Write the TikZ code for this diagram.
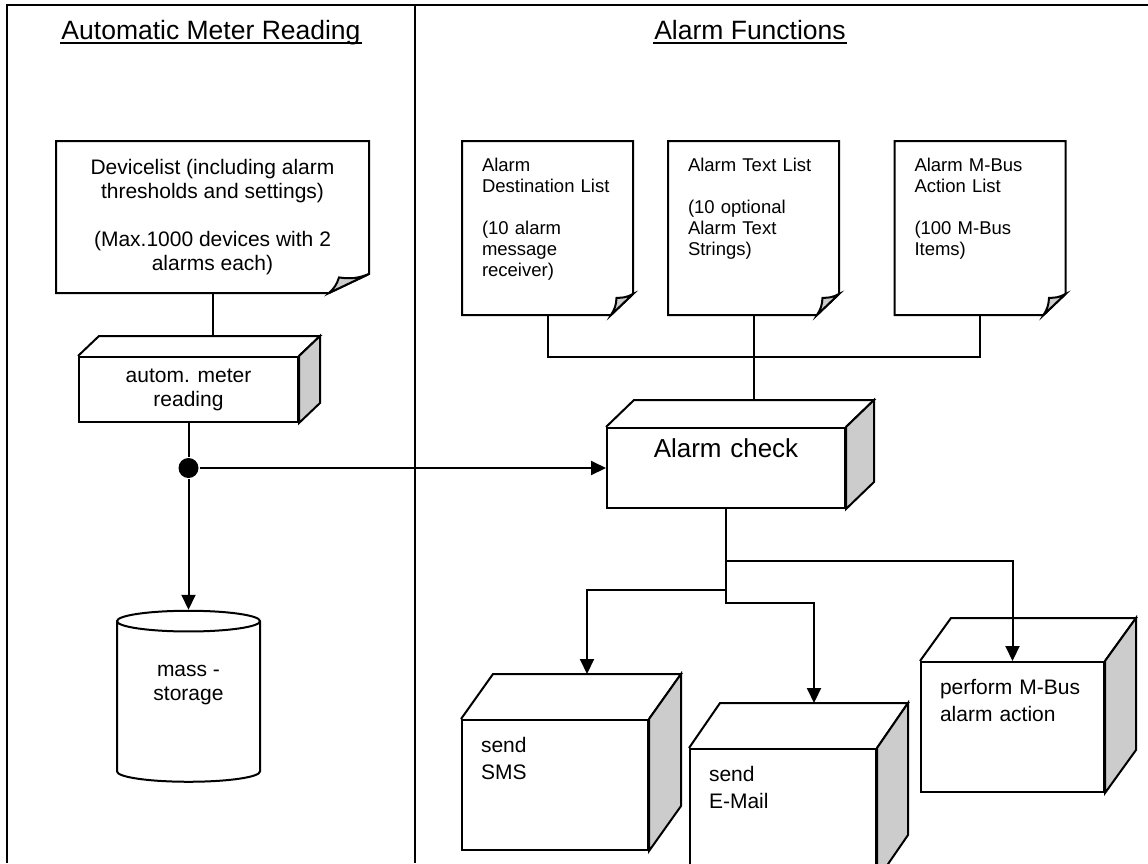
\documentclass[tikz,border=0pt]{standalone}
\usepackage{fontspec}
\setmainfont{Liberation Sans}
\usetikzlibrary{positioning,shapes.geometric,arrows.meta,calc}
\definecolor{ShadeGray}{RGB}{204,204,204}
\tikzset{>={Triangle[length=15pt,width=14pt]}}

% faces of a 3d box: node, dx, dy
\newcommand{\boxfaces}[3]{%
  \draw (#1.north west) -- ++(#2,-#3) -- ($(#1.north east)+(#2,-#3)$) -- (#1.north east);
  \draw[fill=ShadeGray] (#1.north east) -- ++(#2,-#3) -- ($(#1.south east)+(#2,-#3)$) -- (#1.south east) -- cycle;}
% sheet with folded corner: node, fold width, fold height
\newcommand{\sheetframe}[3]{%
  \draw (#1.north west) -- (#1.north east) -- ($(#1.south east)+(0,-#3)$) -- ($(#1.south east)+(-#2,0)$) -- (#1.south west) -- cycle;
  \draw[fill=ShadeGray] ($(#1.south east)+(-#2,0)$) to[bend right=15] ($(#1.south east)+(-0.75*#2,-0.82*#3)$) to[bend right=15] ($(#1.south east)+(0,-#3)$) -- cycle;}

\begin{document}
\begin{tikzpicture}[x=1pt,y=-1pt,line width=2pt,
    panelhead/.style={font=\fontsize{26.5}{30}\selectfont, anchor=base, inner sep=0pt},
    devsheet/.style={minimum width=311pt, minimum height=150pt, align=center, font=\fontsize{21}{24}\selectfont},
    listsheet/.style={text width=131pt, inner xsep=19pt, inner ysep=15pt, align=left,
        text height=14pt, text depth=128pt, font=\fontsize{18.5}{21}\selectfont},
    task/.style={draw, inner xsep=19pt, inner ysep=16pt, align=left,
        text height=16pt, text depth=82pt, font=\fontsize{21}{27}\selectfont},
    dot/.style={circle, fill=black, inner sep=0pt, minimum size=20pt}]
        \useasboundingbox (0,0) rectangle (1148,863);
        \fill[white] (0,0) rectangle (1148,863);
        % panels
        \draw[line width=2.5pt] (7,863) -- (7,5) -- (1148,5);
        \draw[line width=2.5pt] (415,5) -- (415,863);
        \node[panelhead] (amrhead) at (211,39) {Automatic Meter Reading};
        \node[panelhead] (alfhead) at (750,39) {Alarm Functions};
        \draw ($(amrhead.base west)+(0,4)$) -- ($(amrhead.base east)+(0,4)$);
        \draw ($(alfhead.base west)+(0,4)$) -- ($(alfhead.base east)+(0,4)$);

        % meter reading side
        \node[devsheet] (devl) at (212.5,217) {Devicelist (including alarm\\thresholds and settings)\\[24pt](Max.1000 devices with 2\\alarms each)};
        \sheetframe{devl}{40}{19}
        \node[draw, minimum width=219pt, minimum height=65pt, align=center, font=\fontsize{21}{24}\selectfont] (meter) at (188.5,389.5) {autom. meter\\reading};
        \boxfaces{meter}{21}{20}
        \coordinate (mtop) at ($(meter.north)+(21,-20)$);
        \node[dot] (jn) at (188.5,468) {};
        \node[draw, cylinder, shape border rotate=90, shape aspect=0.27, minimum width=143pt, minimum height=171pt,
              align=center, text depth=42pt, font=\fontsize{21}{24}\selectfont] (store) at (188.5,703.5) {mass -\\storage};

        % alarm side
        \node[listsheet] (dest) at (547.5,228) {Alarm\\Destination List\\[21pt](10 alarm\\message\\receiver)};
        \node[listsheet] (txtl) at (753.5,228) {Alarm Text List\\[21pt](10 optional\\Alarm Text\\Strings)};
        \node[listsheet] (mbusl) at (980,228) {Alarm M-Bus\\Action List\\[21pt](100 M-Bus\\Items)};
        \sheetframe{dest}{22}{21}
        \sheetframe{txtl}{22}{21}
        \sheetframe{mbusl}{22}{21}
        \node[draw, text width=222pt, inner xsep=8pt, inner ysep=8pt, align=center, text height=21pt, text depth=43pt,
              font=\fontsize{26}{30}\selectfont] (chk) at (726,468) {Alarm check};
        \boxfaces{chk}{28}{27}
        \coordinate (ctop) at ($(chk.north)+(28,-27)$);
        \node[task, text width=148pt] (sms) at (555,785) {send\\SMS};
        \node[task, text width=148pt] (mail) at (783,814) {send\\E-Mail};
        \node[task, text width=145pt] (perf) at (1012.5,727) {perform M-Bus\\alarm action};
        \boxfaces{sms}{32}{45}
        \boxfaces{mail}{31}{45}
        \boxfaces{perf}{31}{43}
        \coordinate (smstop) at ($(sms.north)+(32,-45)$);
        \coordinate (mailtop) at ($(mail.north)+(31,-45)$);

        % connectors
        \draw (devl.south) -- (devl.south |- mtop);
        \draw (meter.south) -- (jn);
        \draw[->] (jn) -- (store.north);
        \draw[->] (jn) -- (chk.west);
        \draw (dest.south) -- ++(0,42) -| (mbusl.south);
        \draw (txtl.south) -- (txtl.south |- ctop);
        \draw[->] (chk.south) -- ++(0,52) -| (perf.north);
        \draw[->] (chk.south) -- ++(0,81) -| (smstop);
        \draw[->] (chk.south) -- ++(0,94) -| (mailtop);
    \end{tikzpicture}
\end{document}
